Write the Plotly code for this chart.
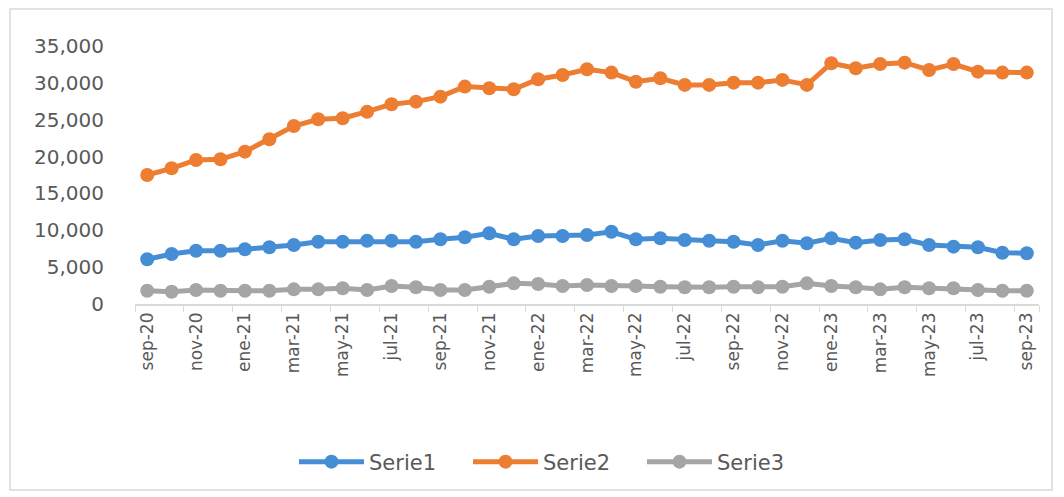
import plotly.graph_objects as go

months = ["sep-20", "oct-20", "nov-20", "dic-20", "ene-21", "feb-21", "mar-21", "abr-21", "may-21",
          "jun-21", "jul-21", "ago-21", "sep-21", "oct-21", "nov-21", "dic-21", "ene-22", "feb-22",
          "mar-22", "abr-22", "may-22", "jun-22", "jul-22", "ago-22", "sep-22", "oct-22", "nov-22",
          "dic-22", "ene-23", "feb-23", "mar-23", "abr-23", "may-23", "jun-23", "jul-23", "ago-23", "sep-23"]

serie1 = [6070, 6780, 7230, 7230, 7420, 7690, 8010, 8450, 8450,
          8590, 8590, 8450, 8780, 9050, 9600, 8780, 9230, 9230,
          9360, 9800, 8780, 8910, 8680, 8590, 8450, 8010, 8590,
          8240, 8910, 8320, 8680, 8780, 8010, 7780, 7690, 6960, 6880]

serie2 = [17500, 18410, 19540, 19630, 20670, 22350, 24150, 25060, 25200,
          26090, 27100, 27450, 28130, 29490, 29270, 29130, 30490, 31070,
          31840, 31390, 30160, 30620, 29720, 29720, 30030, 30030, 30400,
          29720, 32660, 31980, 32560, 32740, 31750, 32560, 31520, 31390, 31390]

serie3 = [1800, 1670, 1900, 1800, 1800, 1800, 1990, 1990, 2130,
          1900, 2440, 2270, 1900, 1900, 2350, 2800, 2710, 2440,
          2580, 2440, 2440, 2350, 2270, 2270, 2350, 2270, 2350,
          2800, 2440, 2270, 1990, 2270, 2130, 2130, 1900, 1800, 1800]

names = ["Serie1", "Serie2", "Serie3"]
colors = ["#458ED6", "#ED7D31", "#A5A5A5"]
tick_labels = months[::2]

fig = go.Figure()
for name, vals, col in zip(names, [serie1, serie2, serie3], colors):
    fig.add_trace(go.Scatter(
        x=months, y=vals, name=name, mode="lines+markers",
        line=dict(color=col, width=5),
        marker=dict(color=col, size=14, symbol="circle"),
    ))

# page body has an 8px offset; plot area targeted at page x 134.5-1039, y 46-304
L, T, PW, PH = 127, 38, 904, 258
font_color = "#595959"
fig.update_layout(
    width=1064, height=497,
    margin=dict(l=L, r=1064 - L - PW, t=T, b=497 - T - PH, autoexpand=False),
    paper_bgcolor="white", plot_bgcolor="white",
    font=dict(family="DejaVu Sans", color=font_color, size=20),
    showlegend=True,
    legend=dict(orientation="h", x=(294 - 8 - L) / PW, xanchor="left",
                y=(T + PH - (462 - 8)) / PH, yanchor="middle",
                font=dict(size=21, color=font_color), itemwidth=65, entrywidth=94,
                traceorder="normal"),
    xaxis=dict(
        type="category", range=[-0.5, 36.5],
        tickmode="array", tickvals=tick_labels, ticktext=tick_labels,
        tickangle=-90, tickson="boundaries",
        ticks="outside", ticklen=6, tickcolor="#D9D9D9",
        showline=True, linecolor="#D9D9D9", linewidth=1.5,
        showgrid=False, zeroline=False, automargin=False,
        tickfont=dict(size=17, color=font_color),
    ),
    yaxis=dict(
        range=[0, 35000], dtick=5000, tickformat=",",
        showgrid=False, zeroline=False, showline=False,
        ticklabelstandoff=30, automargin=False,
        tickfont=dict(size=20, color=font_color),
    ),
    shapes=[dict(type="rect", xref="paper", yref="paper",
                 x0=(10 - 8 - L) / PW, x1=(1052 - 8 - L) / PW,
                 y0=(T + PH - (490 - 8)) / PH, y1=(T + PH - 1) / PH,
                 line=dict(color="#D9D9D9", width=1.5), fillcolor="rgba(0,0,0,0)", layer="below")],
)

fig.write_html("out.html")
